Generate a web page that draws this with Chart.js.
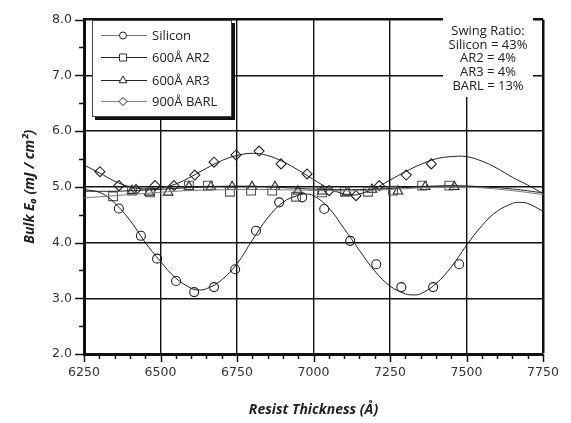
<!DOCTYPE html>
<html>
<head>
<meta charset="utf-8">
<script src="https://cdn.jsdelivr.net/npm/chart.js@4"></script>
<style>
  html, body { margin: 0; padding: 0; background: #fff; }
  canvas { display: block; }
</style>
</head>
<body>
<canvas id="chart" width="571" height="423"></canvas>
<script>
// measured points (resist thickness in Å, bulk E0 in mJ/cm2)
const siliconX = [6364, 6436, 6489, 6551, 6610, 6675, 6744, 6812, 6888, 6963, 7035, 7120, 7205, 7287, 7391, 7476];
const siliconY = [4.61, 4.12, 3.71, 3.31, 3.11, 3.20, 3.52, 4.21, 4.72, 4.81, 4.60, 4.03, 3.61, 3.20, 3.20, 3.61];

const ar2X = [6345, 6407, 6466, 6593, 6655, 6727, 6796, 6865, 6943, 7028, 7103, 7178, 7260, 7355, 7444];
const ar2Y = [4.83, 4.93, 4.90, 5.02, 5.02, 4.91, 4.93, 4.93, 4.82, 4.90, 4.91, 4.91, 4.93, 5.02, 5.02];

const ar3X = [6407, 6463, 6525, 6593, 6665, 6734, 6799, 6874, 6949, 7028, 7109, 7191, 7276, 7365, 7460];
const ar3Y = [4.93, 4.90, 4.90, 5.00, 5.00, 5.00, 5.00, 5.00, 4.92, 4.92, 4.90, 4.95, 4.92, 5.00, 5.00];

const barlX = [6302, 6364, 6420, 6482, 6544, 6612, 6675, 6747, 6822, 6894, 6979, 7051, 7139, 7215, 7303, 7385];
const barlY = [5.27, 5.02, 4.95, 5.02, 5.02, 5.21, 5.44, 5.57, 5.64, 5.41, 5.23, 4.93, 4.84, 5.02, 5.21, 5.41];

// fitted curves
const siFitX = [6250, 6300, 6340, 6400, 6450, 6500, 6550, 6600, 6620, 6650, 6700, 6750, 6800, 6850, 6900, 6950, 6970, 7000, 7050, 7100, 7150, 7200, 7250, 7300, 7325, 7350, 7400, 7450, 7500, 7550, 7600, 7650, 7670, 7700, 7750];
const siFitY = [4.95, 4.90, 4.76, 4.40, 4.00, 3.66, 3.36, 3.18, 3.15, 3.17, 3.33, 3.62, 4.04, 4.44, 4.72, 4.85, 4.87, 4.84, 4.62, 4.25, 3.86, 3.49, 3.22, 3.08, 3.06, 3.08, 3.26, 3.56, 3.95, 4.30, 4.56, 4.70, 4.72, 4.70, 4.56];

const barlFitX = [6250, 6300, 6350, 6400, 6450, 6500, 6550, 6600, 6650, 6700, 6750, 6800, 6850, 6900, 6950, 7000, 7050, 7100, 7125, 7150, 7200, 7250, 7300, 7350, 7400, 7450, 7500, 7550, 7600, 7650, 7700, 7750];
const barlFitY = [5.39, 5.25, 5.10, 5.00, 4.96, 4.98, 5.05, 5.18, 5.33, 5.47, 5.56, 5.60, 5.56, 5.45, 5.30, 5.13, 4.97, 4.87, 4.85, 4.87, 4.97, 5.12, 5.27, 5.40, 5.50, 5.54, 5.54, 5.46, 5.33, 5.17, 5.03, 4.88];

const ar2FitX = [6250, 6350, 6450, 6550, 6650, 6750, 6850, 6950, 7050, 7150, 7250, 7350, 7450, 7550, 7650, 7750];
const ar2FitY = [4.80, 4.84, 4.88, 4.92, 4.94, 4.95, 4.95, 4.94, 4.93, 4.93, 4.95, 4.98, 5.00, 4.98, 4.93, 4.86];

const ar3FitX = [6250, 6350, 6450, 6550, 6650, 6750, 6850, 6950, 7050, 7150, 7250, 7350, 7450, 7550, 7650, 7750];
const ar3FitY = [4.92, 4.92, 4.94, 4.97, 5.00, 5.01, 5.00, 4.97, 4.95, 4.95, 4.97, 5.00, 5.02, 5.00, 4.96, 4.89];

const swingLines = ['Swing Ratio:', 'Silicon = 43%', 'AR2 = 4%', 'AR3 = 4%', 'BARL = 13%'];
const legendNames = ['Silicon', '600Å AR2', '600Å AR3', '900Å BARL'];

function pts(xs, ys) {
    return xs.map((x, i) => ({ x: x, y: ys[i] }));
}

function curve(xs, ys, color) {
    return {
        data: pts(xs, ys),
        borderColor: color,
        borderWidth: 1,
        pointRadius: 0,
        tension: 0.4,
        fill: false
    };
}

function marks(xs, ys, style, radius, color) {
    return {
        data: pts(xs, ys),
        showLine: false,
        pointStyle: style,
        pointRadius: radius,
        pointBorderWidth: 1.1,
        pointBorderColor: color,
        pointBackgroundColor: 'rgba(255,255,255,0)'
    };
}

const legendItems = [
    { name: legendNames[0], style: 'circle', radius: 3.5, line: '#777', mark: '#222' },
    { name: legendNames[1], style: 'rect', radius: 5, line: '#222', mark: '#333' },
    { name: legendNames[2], style: 'triangle', radius: 4.5, line: '#222', mark: '#222' },
    { name: legendNames[3], style: 'rectRot', radius: 4, line: '#888', mark: '#222' }
];

const extrasPlugin = {
    id: 'extras',
    afterDraw(chart) {
        const ctx = chart.ctx;
        const xs = chart.scales.x;
        const ys = chart.scales.y;
        ctx.save();

        // tick marks
        ctx.strokeStyle = '#111';
        ctx.lineWidth = 1.5;
        for (let v = 2; v <= 8.001; v += 0.5) {
            const py = Math.round(ys.getPixelForValue(v)) + 0.5;
            const len = Math.abs(v - Math.round(v)) < 0.01 ? 9 : 5;
            ctx.beginPath();
            ctx.moveTo(xs.left - len, py);
            ctx.lineTo(xs.left, py);
            ctx.stroke();
        }
        for (let v = 6250; v <= 7750; v += 50) {
            const px = Math.round(xs.getPixelForValue(v)) + 0.5;
            const len = (v - 6250) % 250 === 0 ? 8 : 5;
            ctx.beginPath();
            ctx.moveTo(px, ys.bottom);
            ctx.lineTo(px, ys.bottom + len);
            ctx.stroke();
        }

        // legend box
        const lx = 92, ly = 20, lw = 140, lh = 97;
        ctx.fillStyle = '#111';
        ctx.fillRect(lx + 3, ly + 3, lw, lh);
        ctx.fillStyle = '#fff';
        ctx.fillRect(lx, ly, lw, lh);
        ctx.strokeStyle = '#444';
        ctx.lineWidth = 1;
        ctx.strokeRect(lx + 0.5, ly + 0.5, lw - 1, lh - 1);

        const rowY = [35, 57, 80, 101];
        ctx.font = '13px "Open Sans", sans-serif';
        ctx.textBaseline = 'middle';
        ctx.textAlign = 'left';
        legendItems.forEach((it, i) => {
            const y = rowY[i] + 0.5;
            ctx.strokeStyle = it.line;
            ctx.lineWidth = 1;
            ctx.beginPath();
            ctx.moveTo(101, y);
            ctx.lineTo(147, y);
            ctx.stroke();
            ctx.strokeStyle = it.mark;
            ctx.fillStyle = '#fff';
            Chart.helpers.drawPoint(ctx, { pointStyle: it.style, radius: it.radius, rotation: 0, borderWidth: 1 }, 123, y);
            ctx.fillStyle = '#222';
            ctx.fillText(it.name, 152, rowY[i] + 1);
        });

        // swing ratio note
        ctx.fillStyle = '#fff';
        ctx.fillRect(443, 17, 90, 80);
        ctx.fillStyle = '#222';
        ctx.textAlign = 'center';
        ctx.font = '13px "Open Sans", sans-serif';
        const noteY = [31, 45, 58.5, 72, 86];
        swingLines.forEach((t, i) => ctx.fillText(t, 488, noteY[i]));

        ctx.restore();
    }
};

new Chart(document.getElementById('chart').getContext('2d'), {
    type: 'line',
    data: {
        datasets: [
            curve(ar2FitX, ar2FitY, '#777'),
            curve(ar3FitX, ar3FitY, '#222'),
            curve(barlFitX, barlFitY, '#222'),
            curve(siFitX, siFitY, '#222'),
            marks(ar2X, ar2Y, 'rect', 6.2, '#555'),
            marks(ar3X, ar3Y, 'triangle', 5.5, '#222'),
            marks(barlX, barlY, 'rectRot', 5, '#222'),
            marks(siliconX, siliconY, 'circle', 4.5, '#222')
        ]
    },
    options: {
        responsive: false,
        animation: false,
        layout: { padding: { left: 0, right: 28, top: 14, bottom: 0 } },
        plugins: {
            legend: { display: false },
            tooltip: { enabled: false }
        },
        scales: {
            x: {
                type: 'linear',
                min: 6250,
                max: 7750,
                ticks: {
                    stepSize: 250,
                    padding: 11,
                    color: '#333',
                    font: { family: '"DejaVu Sans", sans-serif', size: 12.5 },
                    maxRotation: 0,
                    callback: v => String(v)
                },
                grid: {
                    color: '#111',
                    lineWidth: ctx => (ctx.tick && ctx.tick.value === 7750) ? 2.5 : 1.4,
                    drawTicks: false
                },
                border: { color: '#111', width: 3 },
                title: {
                    display: true,
                    text: 'Resist Thickness (Å)',
                    color: '#222',
                    font: { family: '"Open Sans", sans-serif', size: 14, weight: 'bold', style: 'italic' },
                    padding: { top: 10, bottom: 5 }
                },
                afterFit(scale) { scale.height = 69; }
            },
            y: {
                min: 2,
                max: 8,
                ticks: {
                    stepSize: 1,
                    padding: 12,
                    color: '#333',
                    font: { family: '"DejaVu Sans", sans-serif', size: 12.5 },
                    callback: v => v.toFixed(1)
                },
                grid: {
                    color: '#111',
                    lineWidth: ctx => (ctx.tick && ctx.tick.value === 8) ? 2.5 : 1.4,
                    drawTicks: false
                },
                border: { color: '#111', width: 3 },
                title: {
                    display: true,
                    text: 'Bulk E₀ (mJ / cm²)',
                    color: '#222',
                    font: { family: '"Open Sans", sans-serif', size: 14, weight: 'bold', style: 'italic' },
                    padding: { top: 22, bottom: 0 }
                },
                afterFit(scale) { scale.width = 84; }
            }
        }
    },
    plugins: [extrasPlugin]
});
</script>
</body>
</html>
